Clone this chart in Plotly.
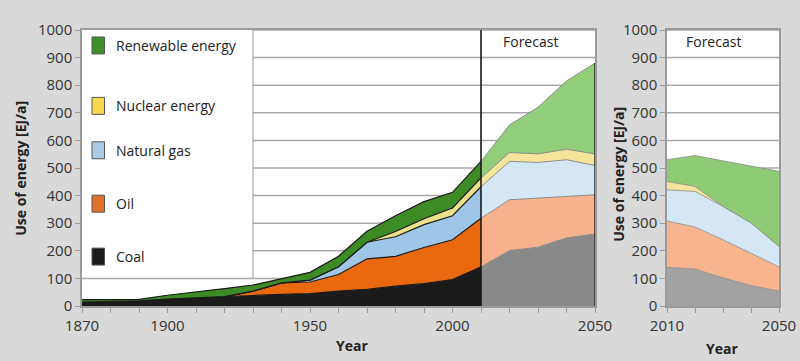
import plotly.graph_objects as go

# ---------------- data ----------------
years_hist = [1870, 1880, 1890, 1900, 1910, 1920, 1930, 1940, 1950, 1960, 1970, 1980, 1990, 2000, 2010]
coal_hist = [14, 16, 19, 25, 30, 34, 38, 42, 45, 54, 60, 72, 81, 96, 142]
oil_hist = [0, 0, 0, 0, 0, 0, 16, 42, 42, 60, 111, 108, 131, 144, 176]
gas_hist = [0, 0, 0, 0, 0, 0, 0, 0, 7, 28, 60, 71, 83, 87, 114]
nuclear_hist = [0, 0, 0, 0, 0, 0, 0, 0, 0, 0, 0, 19, 21, 28, 32]
renew_hist = [9, 7, 5, 14, 20, 29, 22, 14, 28, 38, 40, 57, 62, 57, 60]

years_fc = [2010, 2020, 2030, 2040, 2050]
coal_fc = [142, 201, 213, 247, 261]
oil_fc = [176, 184, 178, 150, 142]
gas_fc = [114, 139, 129, 133, 106]
nuclear_fc = [32, 32, 31, 38, 42]
renew_fc = [60, 100, 169, 247, 329]

years_alt = [2010, 2020, 2030, 2040, 2050]
coal_alt = [140, 134, 102, 74, 54]
oil_alt = [168, 152, 138, 116, 88]
gas_alt = [113, 129, 121, 111, 74]
nuclear_alt = [30, 18, 0, 0, 0]
renew_alt = [79, 112, 165, 206, 272]

legend_labels = ["Renewable energy", "Nuclear energy", "Natural gas", "Oil", "Coal"]

left_ticks = [1870, 1900, 1950, 2000, 2050]
right_ticks = [2010, 2050]
y_ticks = list(range(0, 1001, 100))

# ---------------- style ----------------
FONT = "Open Sans"
W, H = 800, 361
ML, MR, MT, MB = 82, 21, 30, 54.5
PW, PH = W - ML - MR, H - MT - MB


def px_x(x):
    return (x - ML) / PW


def px_y(y):
    return (H - MB - y) / PH


hist_colors = ["#1b1b1b", "#ea690e", "#9fc6e7", "#ede28c", "#3d8b25"]
fc_colors = ["#898989", "#f7b28b", "#d5e6f5", "#f4e59b", "#92cd7a"]
alt_colors = ["#a2a2a2", "#f8b48d", "#d5e6f5", "#f4e59b", "#8fcb75"]
legend_colors = ["#3f8f28", "#f6d84c", "#a9cbe6", "#e2722b", "#1a1a1a"]
GRID = "#a9a9a9"

fig = go.Figure()

hist_series = [coal_hist, oil_hist, gas_hist, nuclear_hist, renew_hist]
fc_series = [coal_fc, oil_fc, gas_fc, nuclear_fc, renew_fc]
alt_series = [coal_alt, oil_alt, gas_alt, nuclear_alt, renew_alt]

for vals, col in zip(hist_series, hist_colors):
    fig.add_trace(go.Scatter(x=years_hist, y=vals, stackgroup="hist", mode="lines",
                             line=dict(color="#1a1a1a", width=1.2), fillcolor=col,
                             showlegend=False, hoverinfo="skip", xaxis="x", yaxis="y"))
for vals, col in zip(fc_series, fc_colors):
    fig.add_trace(go.Scatter(x=years_fc, y=vals, stackgroup="fc", mode="lines",
                             line=dict(color="#8c8c8c", width=1), fillcolor=col,
                             showlegend=False, hoverinfo="skip", xaxis="x", yaxis="y"))
for vals, col in zip(alt_series, alt_colors):
    fig.add_trace(go.Scatter(x=years_alt, y=vals, stackgroup="alt", mode="lines",
                             line=dict(color="#8c8c8c", width=0.8), fillcolor=col,
                             showlegend=False, hoverinfo="skip", xaxis="x2", yaxis="y2"))

axis_common = dict(showline=True, linecolor="#9a9a9a", linewidth=1.5, mirror=True,
                   ticks="outside", ticklen=5, tickcolor="#9a9a9a", tickwidth=1,
                   tickfont=dict(family=FONT, size=15, color="#333333"), zeroline=False,
                   showgrid=False)

split = px_x(595)
right0 = px_x(667)
fig.update_layout(
    width=W, height=H,
    paper_bgcolor="#d9d9d9", plot_bgcolor="white",
    margin=dict(l=ML, r=MR, t=MT, b=MB, autoexpand=False),
    showlegend=False,
    xaxis=dict(domain=[0, split], range=[1870, 2050], tickvals=left_ticks, anchor="y",
               minor=dict(ticks="outside", tick0=1870, dtick=10, ticklen=5,
                          tickcolor="#9a9a9a", showgrid=False),
               **axis_common),
    yaxis=dict(domain=[0, 1], range=[0, 1000], tickvals=y_ticks, anchor="x", **axis_common),
    xaxis2=dict(domain=[right0, 1], range=[2010, 2050], tickvals=right_ticks, anchor="y2",
                minor=dict(ticks="outside", tick0=2010, dtick=10, ticklen=5,
                           tickcolor="#9a9a9a", showgrid=False),
                **axis_common),
    yaxis2=dict(domain=[0, 1], range=[0, 1000], tickvals=y_ticks, anchor="x2", **axis_common),
)

shapes = []
# gridlines (hidden behind the legend box on the left chart)
for yv in y_ticks[1:]:
    x0 = 0 if yv <= 100 else px_x(253)
    shapes.append(dict(type="line", xref="paper", yref="y", x0=x0, x1=split, y0=yv, y1=yv,
                       line=dict(color=GRID, width=1.5), layer="below"))
    shapes.append(dict(type="line", xref="paper", yref="y2", x0=right0, x1=1, y0=yv, y1=yv,
                       line=dict(color=GRID, width=1.5), layer="below"))
shapes.append(dict(type="line", xref="paper", yref="paper",
                   x0=px_x(253), x1=px_x(253), y0=px_y(279), y1=1,
                   line=dict(color=GRID, width=1.2), layer="below"))
# forecast divider
shapes.append(dict(type="line", xref="x", yref="paper", x0=2010, x1=2010, y0=0, y1=1,
                   line=dict(color="#1a1a1a", width=1.6), layer="above"))
# right edge of forecast stack
total_end = sum(s[-1] for s in fc_series)
shapes.append(dict(type="line", xref="x", yref="y", x0=2050, x1=2050, y0=0, y1=total_end,
                   line=dict(color="#333333", width=1.6), layer="above"))

# legend markers & labels
legend_y = [45.5, 106, 150.5, 204, 257]
annotations = []
for lab, col, yc in zip(legend_labels, legend_colors, legend_y):
    shapes.append(dict(type="rect", xref="paper", yref="paper",
                       x0=px_x(92), x1=px_x(104.5), y0=px_y(yc + 8.5), y1=px_y(yc - 8.5),
                       fillcolor=col, line=dict(color="#555555", width=1), layer="above"))
    annotations.append(dict(x=px_x(114), y=px_y(yc), xref="paper", yref="paper",
                            text=lab, showarrow=False, xanchor="left", yanchor="middle",
                            font=dict(family=FONT, size=14, color="#222222")))


def label(x, y, text, angle=0):
    return dict(x=px_x(x), y=px_y(y), xref="paper", yref="paper", text=text,
                textangle=angle, showarrow=False, xanchor="center", yanchor="middle",
                font=dict(family=FONT, size=14, color="#222222"))


annotations += [
    label(530, 42, "Forecast"),
    label(713, 42, "Forecast"),
    label(21, 168, "<b>Use of energy [EJ/a]</b>", -90),
    label(619, 175, "<b>Use of energy [EJ/a]</b>", -90),
    label(352, 346, "<b>Year</b>"),
    label(722, 349, "<b>Year</b>"),
]

fig.update_layout(shapes=shapes, annotations=annotations)
fig.write_html("out.html", config={"displayModeBar": False},
               post_script="document.body.style.margin='0';")
